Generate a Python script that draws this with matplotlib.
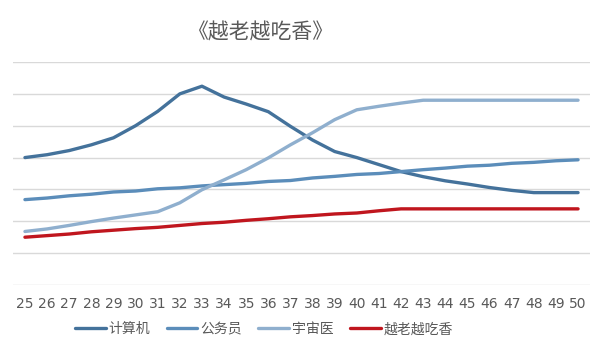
import numpy as np
import matplotlib.pyplot as plt

plt.rcParams['font.family'] = ['Noto Sans CJK SC', 'DejaVu Sans']

ages = list(range(25, 51))
computer = [4.0, 4.09, 4.22, 4.4, 4.62, 5.0, 5.45, 6.0, 6.24, 5.9, 5.68, 5.44,
            4.98, 4.55, 4.19, 4.0, 3.78, 3.56, 3.4, 3.27, 3.17, 3.06, 2.97, 2.9, 2.9, 2.9]
civil = [2.68, 2.73, 2.8, 2.85, 2.92, 2.95, 3.02, 3.05, 3.11, 3.15, 3.19, 3.25,
         3.28, 3.36, 3.41, 3.47, 3.5, 3.56, 3.62, 3.67, 3.73, 3.76, 3.82, 3.85, 3.9, 3.93]
doctor = [1.68, 1.76, 1.87, 1.99, 2.1, 2.2, 2.3, 2.58, 2.99, 3.3, 3.62, 3.99,
          4.4, 4.78, 5.19, 5.5, 5.61, 5.71, 5.8, 5.8, 5.8, 5.8, 5.8, 5.8, 5.8, 5.8]
older = [1.5, 1.55, 1.6, 1.67, 1.72, 1.77, 1.81, 1.87, 1.93, 1.97, 2.03, 2.08,
         2.14, 2.18, 2.23, 2.26, 2.33, 2.39, 2.39, 2.39, 2.39, 2.39, 2.39, 2.39, 2.39, 2.39]

names = ['计算机', '公务员', '宇宙医', '越老越吃香']
colors = ['#44729B', '#5B8DBA', '#8FAFCE', '#C0161E']

fig = plt.figure(figsize=(6, 3.59), dpi=100)
ax = fig.add_axes([13 / 600, 74 / 359, 577 / 600, 223 / 359])

for ys, name, c in zip([computer, civil, doctor, older], names, colors):
    ax.plot(ages, ys, color=c, lw=2.4, label=name, solid_capstyle='round')

ax.set_xlim(24.46, 50.54)
ax.set_ylim(0, 7)
ax.set_yticks(range(0, 8))
ax.set_yticklabels([])
ax.set_xticks(ages)
ax.set_xticklabels([str(a) for a in ages], color='#595959', fontsize=10,
                   family=['DejaVu Sans'])
ax.tick_params(axis='both', length=0)
ax.tick_params(axis='x', pad=9)
ax.grid(axis='y', color='#D9D9D9', lw=1)
for s in ax.spines.values():
    s.set_visible(False)

fig.text(261 / 600, 0.91, '《越老越吃香》', ha='center', va='center',
         fontsize=15, color='#595959')
fig.legend(loc='center', bbox_to_anchor=(264 / 600, 0.083), ncol=4, frameon=False,
           fontsize=10, handlelength=2.2, handletextpad=0.2, columnspacing=1.2,
           labelcolor='#595959')

fig.savefig('out.png')
